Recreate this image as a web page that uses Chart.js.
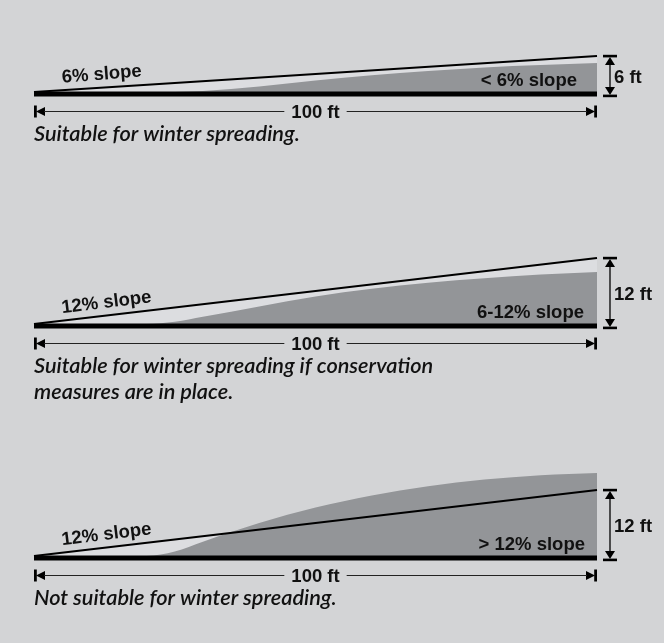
<!DOCTYPE html>
<html><head><meta charset="utf-8">
<script src="https://cdn.jsdelivr.net/npm/chart.js@4/dist/chart.umd.min.js"></script>
<style>
html,body{margin:0;padding:0;background:#d3d4d6;width:664px;height:643px;overflow:hidden}
canvas{position:absolute;left:0;top:0}
</style></head><body>
<canvas id="c1" width="664" height="643"></canvas>
<canvas id="c2" width="664" height="643"></canvas>
<canvas id="c3" width="664" height="643"></canvas>
<script>
// ---- data (distance along the field in ft, heights in ft) ----
const distance = [0, 20, 25, 30, 40, 50, 60, 70, 80, 90, 100];
const soil1 = [0, 0, 0.02, 0.15, 0.9, 1.9, 2.8, 3.5, 4.1, 4.5, 4.85];
const soil2 = [0, 0, 0.4, 1.3, 3.2, 5.0, 6.4, 7.5, 8.3, 9.0, 9.45];
const soil3 = [0, 0, 0.8, 2.6, 6.0, 8.8, 11.0, 12.7, 13.9, 14.7, 15.1];
const slopeRun = [0, 100];
const slopeRise1 = [0, 6];
const slopeRise2 = [0, 12];
const slopeRise3 = [0, 12];
const slopeLabels = ['6% slope', '12% slope', '12% slope'];
const fieldLabels = ['< 6% slope', '6-12% slope', '> 12% slope'];
const riseLabels = ['6 ft', '12 ft', '12 ft'];
const runLabel = '100 ft';
const captions = [
  ['Suitable for winter spreading.'],
  ['Suitable for winter spreading if conservation', 'measures are in place.'],
  ['Not suitable for winter spreading.']
];

// ---- layout ----
const W = 664, H = 643, LEFT = 34, RIGHT = 597;
const layouts = [
  {base: 92, pxPerFt: 6.0, yMax: 12, labelRight: 577, angle: -4.5},
  {base: 324, pxPerFt: 5.5, yMax: 17, labelRight: 584, angle: -7},
  {base: 556, pxPerFt: 5.5, yMax: 17, labelRight: 585, angle: -7}
];
const BOLD = 'bold 18.5px "Liberation Sans", Arial, sans-serif';
const INK = '#111';
let ITAL = 'italic 600 20px Lato, "Open Sans", sans-serif';
(function fitCaption() {
  const c = document.createElement('canvas').getContext('2d');
  c.font = 'italic 600 20px Lato, "Open Sans", sans-serif';
  const w = c.measureText(captions[0][0]).width;
  const size = Math.max(14, Math.min(24, 20 * 266 / w));
  ITAL = 'italic 600 ' + size.toFixed(2) + 'px Lato, "Open Sans", sans-serif';
})();

function triangle(ctx, a, b, c) {
  ctx.beginPath(); ctx.moveTo(a[0], a[1]); ctx.lineTo(b[0], b[1]); ctx.lineTo(c[0], c[1]); ctx.closePath(); ctx.fill();
}

function annotations(i, rise) {
  return {
    id: 'annot' + i,
    afterDatasetsDraw(chart) {
      const ctx = chart.ctx, xs = chart.scales.x, ys = chart.scales.y;
      const x0 = xs.getPixelForValue(0), x1 = xs.getPixelForValue(100);
      const y0 = ys.getPixelForValue(0);
      const yTop = ys.getPixelForValue(rise[1]);
      const lay = layouts[i];
      ctx.save();
      // ground bar
      ctx.fillStyle = '#000';
      ctx.fillRect(x0, y0 - 0.5, x1 - x0, 5);
      // slope label
      ctx.fillStyle = INK;
      ctx.font = BOLD;
      const lx = xs.getPixelForValue(5);
      const ly = ys.getPixelForValue(rise[1] * 0.05) - 7.5;
      ctx.save();
      ctx.translate(lx, ly);
      ctx.rotate(lay.angle * Math.PI / 180);
      ctx.textAlign = 'left'; ctx.textBaseline = 'alphabetic';
      ctx.fillText(slopeLabels[i], 0, 0);
      ctx.restore();
      // field label
      ctx.textAlign = 'right'; ctx.textBaseline = 'alphabetic';
      ctx.fillText(fieldLabels[i], lay.labelRight, y0 - 6.5);
      // vertical dimension
      const vx = x1 + 13, vt = yTop, vb = y0 + 4;
      ctx.fillStyle = '#000'; ctx.strokeStyle = '#000';
      ctx.fillRect(vx - 7, vt - 1.2, 14, 2.6);
      ctx.fillRect(vx - 7, vb - 1.4, 14, 2.6);
      triangle(ctx, [vx, vt + 1], [vx - 5, vt + 9], [vx + 5, vt + 9]);
      triangle(ctx, [vx, vb - 1], [vx - 5, vb - 9], [vx + 5, vb - 9]);
      ctx.lineWidth = 1.3;
      ctx.beginPath(); ctx.moveTo(vx, vt + 8); ctx.lineTo(vx, vb - 8); ctx.stroke();
      ctx.fillStyle = INK;
      ctx.textAlign = 'left'; ctx.textBaseline = 'middle';
      ctx.fillText(riseLabels[i], vx + 4, (vt + vb) / 2 + 2);
      // horizontal dimension
      const hy = y0 + 19.5;
      ctx.fillStyle = '#000';
      ctx.fillRect(x0, hy - 6, 2.8, 12);
      ctx.fillRect(x1 - 2.8, hy - 6, 2.8, 12);
      triangle(ctx, [x0 + 2, hy], [x0 + 11, hy - 4.5], [x0 + 11, hy + 4.5]);
      triangle(ctx, [x1 - 2, hy], [x1 - 11, hy - 4.5], [x1 - 11, hy + 4.5]);
      ctx.font = BOLD;
      const cx = xs.getPixelForValue(50);
      const tw = ctx.measureText(runLabel).width;
      ctx.strokeStyle = '#222'; ctx.lineWidth = 1;
      ctx.beginPath();
      ctx.moveTo(x0 + 10, hy); ctx.lineTo(cx - tw / 2 - 7, hy);
      ctx.moveTo(cx + tw / 2 + 7, hy); ctx.lineTo(x1 - 10, hy);
      ctx.stroke();
      ctx.fillStyle = INK;
      ctx.textAlign = 'center'; ctx.textBaseline = 'middle';
      ctx.fillText(runLabel, cx, hy + 1);
      // captions
      ctx.font = ITAL;
      ctx.textAlign = 'left'; ctx.textBaseline = 'alphabetic';
      captions[i].forEach((t, k) => ctx.fillText(t, x0, y0 + 49 + k * 25.5));
      ctx.restore();
    }
  };
}

function makeChart(id, i, soil, rise) {
  const lay = layouts[i];
  const slope = slopeRun.map((x, k) => ({x, y: rise[k]}));
  const field = distance.map((x, k) => ({x, y: soil[k]}));
  new Chart(document.getElementById(id), {
    type: 'line',
    data: {datasets: [
      {data: slope, borderWidth: 0, borderColor: 'rgba(0,0,0,0)', pointRadius: 0, fill: 'origin', backgroundColor: '#dcdde0', order: 3},
      {data: field, borderWidth: 0, borderColor: 'rgba(0,0,0,0)', pointRadius: 0, fill: 'origin', backgroundColor: '#939598', cubicInterpolationMode: 'monotone', order: 2},
      {data: slope, borderWidth: 2, borderColor: '#000', pointRadius: 0, fill: false, order: 1, clip: false}
    ]},
    options: {
      responsive: false, animation: false, events: [],
      layout: {padding: {left: LEFT, right: W - RIGHT, top: lay.base - lay.yMax * lay.pxPerFt, bottom: H - lay.base}},
      scales: {
        x: {type: 'linear', min: 0, max: 100, display: false},
        y: {type: 'linear', min: 0, max: lay.yMax, display: false}
      },
      plugins: {legend: {display: false}, tooltip: {enabled: false}}
    },
    plugins: [annotations(i, rise)]
  });
}

makeChart('c1', 0, soil1, slopeRise1);
makeChart('c2', 1, soil2, slopeRise2);
makeChart('c3', 2, soil3, slopeRise3);
</script>
</body></html>
